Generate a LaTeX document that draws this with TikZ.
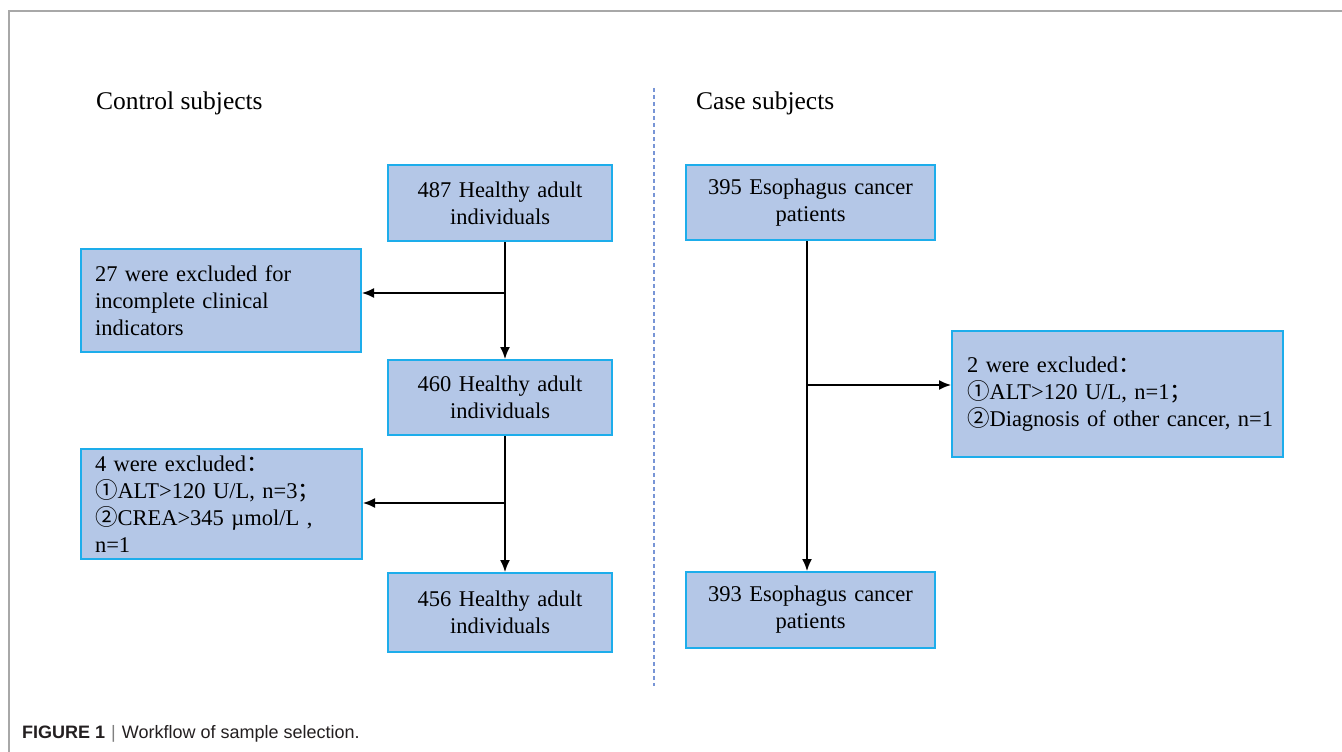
\documentclass[tikz,border=0pt]{standalone}
\usepackage{fontspec}
\setmainfont{Liberation Serif}
\newfontfamily\capfont{Liberation Sans}
\newfontfamily\cjk{Noto Sans CJK SC}
\usetikzlibrary{arrows.meta}
\definecolor{boxfill}{HTML}{B4C7E7}
\definecolor{boxline}{HTML}{1DADEB}
\definecolor{frameline}{HTML}{A8A8A8}
\definecolor{divline}{HTML}{7895D6}
\definecolor{captext}{HTML}{231F20}
\newcommand{\cone}{{\cjk ①}}
\newcommand{\ctwo}{{\cjk ②}}
\newcommand{\fcolon}{{\cjk ：}}
\newcommand{\fsemi}{{\cjk ；}}
\begin{document}
\begin{tikzpicture}[x=1pt,y=-1pt,
  box/.style={draw=boxline, line width=2pt, fill=boxfill, inner sep=0pt,
    font=\fontsize{22.5}{27}\selectfont},
  cbox/.style={box, align=center},
  lbox/.style={box, align=left},
  flow/.style={line width=1.6pt, black},
  flowarrow/.style={flow, -{Latex[length=12pt,width=10pt]}},
  heading/.style={anchor=base west, inner sep=0pt, font=\fontsize{25.5}{30}\selectfont}
]
\useasboundingbox (0,0) rectangle (1342,752);
% frame
\draw[frameline, line width=1.5pt] (1342,11) -- (9,11) -- (9,752);
% divider
\draw[divline, line width=2pt, dash pattern=on 4pt off 3pt] (654,88) -- (654,686);
% headings
\node[heading] (hc) at (96,110) {Control subjects};
\node[heading] (hs) at (696,110) {Case subjects};
% control boxes
\node[cbox, minimum width=224pt, minimum height=76pt, text width=210pt] (A) at (500,203) {487 Healthy adult\\individuals};
\node[lbox, minimum width=280pt, minimum height=103pt, text width=252pt] (B) at (221,300.5) {27 were excluded for\\incomplete clinical\\indicators};
\node[cbox, minimum width=224pt, minimum height=75pt, text width=210pt] (C) at (500,397.5) {460 Healthy adult\\individuals};
\node[lbox, minimum width=281pt, minimum height=110pt, text width=253pt] (D) at (221.5,504) {4 were excluded\fcolon\\\cone ALT>120 U/L, n=3\fsemi\\\ctwo CREA>345 µmol/L ,\\n=1};
\node[cbox, minimum width=224pt, minimum height=79pt, text width=210pt] (E) at (500,612.5) {456 Healthy adult\\individuals};
% case boxes
\node[cbox, minimum width=249pt, minimum height=75pt, text width=235pt] (F) at (810.5,202.5) {395 Esophagus cancer\\patients};
\node[lbox, minimum width=331pt, minimum height=126pt, text width=301pt] (G) at (1117.5,394) {2 were excluded\fcolon\\\cone ALT>120 U/L, n=1\fsemi\\\mbox{\ctwo Diagnosis of other cancer, n=1}};
\node[cbox, minimum width=249pt, minimum height=76pt, text width=235pt] (H) at (810.5,610) {393 Esophagus cancer\\patients};
% connectors
\coordinate (j1) at (505,293);
\coordinate (j2) at (505,503);
\coordinate (j3) at (807,385);
\draw[flowarrow] ([xshift=5pt]A.south) -- ([xshift=5pt]C.north);
\draw[flowarrow] (j1) -- (B.east |- j1);
\draw[flowarrow] ([xshift=5pt]C.south) -- ([xshift=5pt]E.north);
\draw[flowarrow] (j2) -- (D.east |- j2);
\draw[flowarrow] ([xshift=-3.5pt]F.south) -- ([xshift=-3.5pt]H.north);
\draw[flowarrow] (j3) -- (G.west |- j3);
% caption
\node[anchor=base west, inner sep=0pt, text=captext, font=\capfont\fontsize{18}{22}\selectfont] (cap) at (22,738)
  {\textbf{FIGURE 1}\hspace{6pt}{\color{gray}|}\hspace{6pt}Workflow of sample selection.};
\end{tikzpicture}
\end{document}
